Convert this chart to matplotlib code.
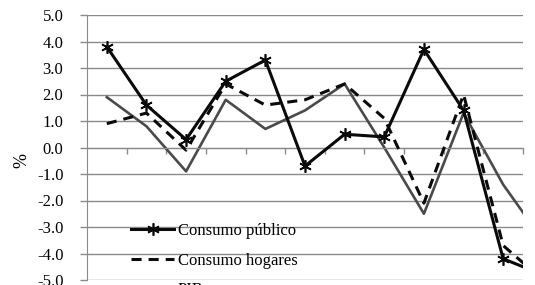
import numpy as np
import matplotlib
matplotlib.use("Agg")
import matplotlib.pyplot as plt

# datos (variación %, 12 periodos; el último queda fuera del recorte)
periodos = list(range(1, 13))
consumo_publico = [3.8, 1.6, 0.3, 2.5, 3.3, -0.7, 0.5, 0.4, 3.7, 1.4, -4.2, -4.8]
consumo_hogares = [0.9, 1.3, -0.1, 2.4, 1.6, 1.8, 2.4, 1.1, -2.1, 2.0, -3.7, -5.0]
pib = [1.9, 0.8, -0.9, 1.8, 0.7, 1.4, 2.4, 0.0, -2.5, 1.3, -1.4, -3.5]
yticks = np.arange(-5, 5.01, 1.0)

plt.rcParams['font.family'] = ['Liberation Serif', 'DejaVu Serif']

W, H = 535, 285
fig = plt.figure(figsize=(W / 100, H / 100), dpi=100)
# area de trazado en pixeles: x 87..523, y 15..280
ax = fig.add_axes([87 / W, (H - 280) / H, (523 - 87) / W, (280 - 15) / H])

x = np.arange(len(periodos))
gris = '#8a8a8a'

ax.plot(x, consumo_publico, color='#0a0a0a', lw=2.2,
        marker=(6, 2, 0), ms=9, mew=1.2, label='Consumo público', zorder=4)
ax.plot(x, consumo_hogares, color='#0a0a0a', lw=2.2, dashes=(3.3, 2.3),
        label='Consumo hogares', zorder=3)
ax.plot(x, pib, color='#4a4a4a', lw=1.9, label='PIB', zorder=2)

ax.set_xlim(-0.5, 10.4)
ax.set_ylim(-5, 5)
ax.set_yticks(yticks)
ax.set_yticklabels([f"{v:.1f}" for v in yticks], fontsize=12)
ax.yaxis.grid(True, color=gris, lw=1.0)
ax.set_axisbelow(True)

# eje de categorias cruzando en 0
ax.spines['bottom'].set_position(('data', 0))
ax.spines['bottom'].set_color(gris)
ax.spines['left'].set_color(gris)
ax.spines['top'].set_visible(False)
ax.spines['right'].set_visible(False)
ax.set_xticks(np.arange(0.5, 11, 1.0))
ax.set_xticklabels([])
ax.tick_params(axis='x', direction='out', length=4, color=gris, width=1)
ax.tick_params(axis='y', direction='out', length=5, color=gris, width=1, pad=12)

ax.set_ylabel('%', fontsize=13)
ax.yaxis.set_label_coords(-0.131, 0.45)

leg = ax.legend(loc='upper left', bbox_to_anchor=(131 / W, 1 - 223 / H),
                bbox_transform=fig.transFigure, frameon=False, fontsize=12,
                handlelength=2.6, handletextpad=0.2, labelspacing=0.82,
                borderpad=0, borderaxespad=0, numpoints=1)

fig.savefig('out.png', dpi=100)
